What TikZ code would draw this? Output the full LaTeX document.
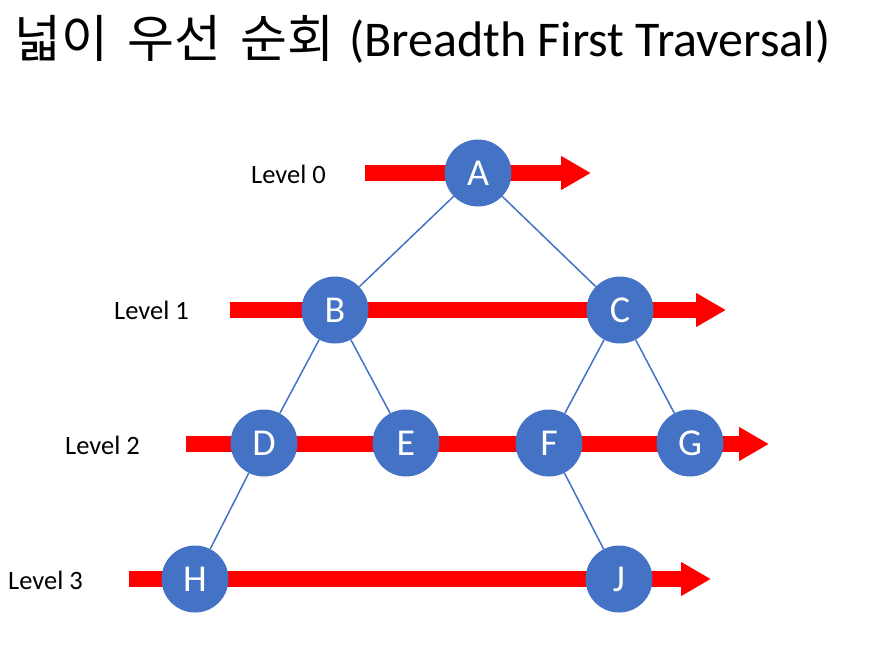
\documentclass[tikz,border=0pt]{standalone}
\usepackage{fontspec}
\setmainfont{Carlito}
\newfontfamily\krfont[WordSpace=1.7]{Noto Sans CJK KR}
\usetikzlibrary{arrows.meta}
\definecolor{nodeblue}{HTML}{4472C4}
\definecolor{arrowred}{HTML}{FF0000}
\tikzset{
  vert/.style={circle, fill=nodeblue, minimum size=67pt, inner sep=0pt, text=white, font=\fontsize{38}{40}\selectfont},
  edge/.style={draw=nodeblue, line width=1.5pt},
  levelarrow/.style={draw=arrowred, line width=16pt, -{Triangle[length=30pt,width=32pt]}},
  levellabel/.style={anchor=base west, inner sep=0pt, font=\fontsize{26.5}{30}\selectfont},
}
\begin{document}
\begin{tikzpicture}[x=1pt,y=-1pt]
\useasboundingbox (0,0) rectangle (894,646);
% title
\node[anchor=base west, inner sep=0pt, font=\krfont\fontsize{51}{54}\selectfont] (titlekr) at (14,57) {넓이 우선 순회};
\node[anchor=base west, inner sep=0pt, font=\fontsize{50}{54}\selectfont] (titleen) at (349,56) {(Breadth First Traversal)};
% arrow endpoints
\coordinate (s0) at (365,173); \coordinate (e0) at (591,173);
\coordinate (s1) at (230,310); \coordinate (e1) at (726,310);
\coordinate (s2) at (186,444); \coordinate (e2) at (769,444);
\coordinate (s3) at (129,579); \coordinate (e3) at (711,579);
\draw[levelarrow] (s0) -- (e0);
\draw[levelarrow] (s1) -- (e1);
\draw[levelarrow] (s2) -- (e2);
\draw[levelarrow] (s3) -- (e3);
% labels
\node[levellabel] (l0) at (251,183) {Level 0};
\node[levellabel] (l1) at (114,319) {Level 1};
\node[levellabel] (l2) at (65,454) {Level 2};
\node[levellabel] (l3) at (8,589) {Level 3};
% nodes
\node[vert] (A) at (478,173) {A};
\node[vert] (B) at (335,310) {B};
\node[vert] (C) at (620,310) {C};
\node[vert] (D) at (264,443) {D};
\node[vert] (E) at (406,443) {E};
\node[vert] (F) at (549,443) {F};
\node[vert] (G) at (690,443) {G};
\node[vert] (H) at (195,579) {H};
\node[vert] (J) at (619,579) {J};
% edges
\draw[edge] (A) -- (B);
\draw[edge] (A) -- (C);
\draw[edge] (B) -- (D);
\draw[edge] (B) -- (E);
\draw[edge] (C) -- (F);
\draw[edge] (C) -- (G);
\draw[edge] (D) -- (H);
\draw[edge] (F) -- (J);
\end{tikzpicture}
\end{document}
